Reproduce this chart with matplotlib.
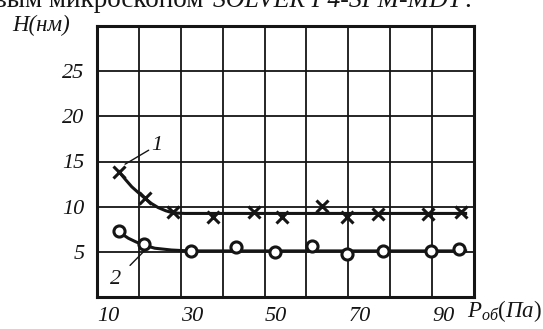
import matplotlib
matplotlib.use("Agg")
import matplotlib.pyplot as plt

# данные
p1 = [15.3, 21.5, 28.1, 37.7, 47.5, 54.2, 63.7, 69.7, 77.1, 89.0, 96.9]
h1 = [13.8, 11.0, 9.4, 8.9, 9.4, 8.9, 10.1, 8.9, 9.2, 9.2, 9.4]
p2 = [15.3, 21.2, 32.4, 43.2, 52.5, 61.3, 69.7, 78.3, 89.7, 96.4]
h2 = [7.3, 5.9, 5.1, 5.5, 5.0, 5.6, 4.8, 5.1, 5.1, 5.3]

# аппроксимирующие кривые
fit1_p = [15.25, 16.8, 18.3, 20.0, 21.5, 23.0, 24.6, 26.4, 28.2, 31.0, 98.0]
fit1_h = [13.87, 13.0, 12.2, 11.5, 10.9, 10.35, 9.9, 9.55, 9.3, 9.25, 9.25]
fit2_p = [15.1, 16.2, 17.5, 19.3, 21.1, 23.8, 27.8, 32.0, 98.0]
fit2_h = [7.4, 6.9, 6.5, 6.1, 5.76, 5.4, 5.2, 5.1, 5.1]

x_ticks = [10, 20, 30, 40, 50, 60, 70, 80, 90, 100]
x_labels = ["10", "", "30", "", "50", "", "70", "", "90", ""]
y_ticks = [0, 5, 10, 15, 20, 25, 30]
y_labels = ["", "5", "10", "15", "20", "25", ""]

serif = "Liberation Serif"
ink = "#151515"

plt.rcParams["mathtext.fontset"] = "custom"
plt.rcParams["mathtext.rm"] = serif
plt.rcParams["mathtext.it"] = serif + ":italic"

fig = plt.figure(figsize=(5.43, 3.29), dpi=100)
ax = fig.add_axes([97 / 543, 1 - 297 / 329, 377 / 543, 271 / 329])

ax.set_xlim(10, 100)
ax.set_ylim(0, 30)
ax.set_xticks(x_ticks)
ax.set_xticklabels(x_labels, ha="left")
ax.set_yticks(y_ticks)
ax.set_yticklabels(y_labels)
ax.tick_params(length=0, labelcolor=ink)
for lab in ax.get_xticklabels() + ax.get_yticklabels():
    lab.set_fontfamily(serif)
    lab.set_fontstyle("italic")
    lab.set_fontsize(16)
ax.tick_params(axis="x", pad=7)
ax.tick_params(axis="y", pad=9)
ax.grid(True, color=ink, linewidth=1.3)
ax.set_axisbelow(True)
for sp in ax.spines.values():
    sp.set_linewidth(2.2)
    sp.set_color(ink)

# кривые
ax.plot(fit1_p, fit1_h, color=ink, linewidth=2.2, zorder=3)
ax.plot(fit2_p, fit2_h, color=ink, linewidth=2.2, zorder=3)

# точки
ax.plot(p1, h1, linestyle="none", marker="x", markersize=9, markeredgewidth=2.2,
        color=ink, zorder=4)
ax.plot(p2, h2, linestyle="none", marker="o", markersize=8, markeredgewidth=2.2,
        markerfacecolor="white", markeredgecolor=ink, zorder=4)

# номера кривых
ax.annotate("1", xy=(16.7, 14.7), xytext=(23.0, 16.8), fontfamily=serif,
            fontstyle="italic", fontsize=16, color=ink, va="center", ha="left",
            arrowprops=dict(arrowstyle="-", color=ink, lw=1.0, shrinkA=0, shrinkB=0))
ax.annotate("2", xy=(21.5, 5.2), xytext=(14.5, 1.9), fontfamily=serif,
            fontstyle="italic", fontsize=16, color=ink, va="center", ha="center",
            arrowprops=dict(arrowstyle="-", color=ink, lw=1.0, shrinkA=6, shrinkB=0))

# подписи осей
fig.text(12 / 543, 1 - 25 / 329, "H(нм)", fontfamily=serif, fontstyle="italic",
         fontsize=16.5, color=ink, va="center", ha="left")
fig.text(467 / 543, 1 - 317 / 329, r"$P_{об}(Па)$", fontsize=16.5, color=ink,
         va="baseline", ha="left")

# обрезанная строка текста сверху
fig.text(-6 / 543, 1 - 7 / 329, "вым микроскопом", fontfamily=serif, fontsize=19.5,
         color=ink, va="baseline", ha="left")
fig.text(213 / 543, 1 - 7 / 329, "SOLVER P4-SPM-MDT", fontfamily=serif,
         fontstyle="italic", fontsize=18.5, color=ink, va="baseline", ha="left")
fig.text(464 / 543, 1 - 7 / 329, ".", fontfamily=serif, fontsize=19.5,
         color=ink, va="baseline", ha="left")

fig.savefig("out.png", dpi=100, facecolor="white")
